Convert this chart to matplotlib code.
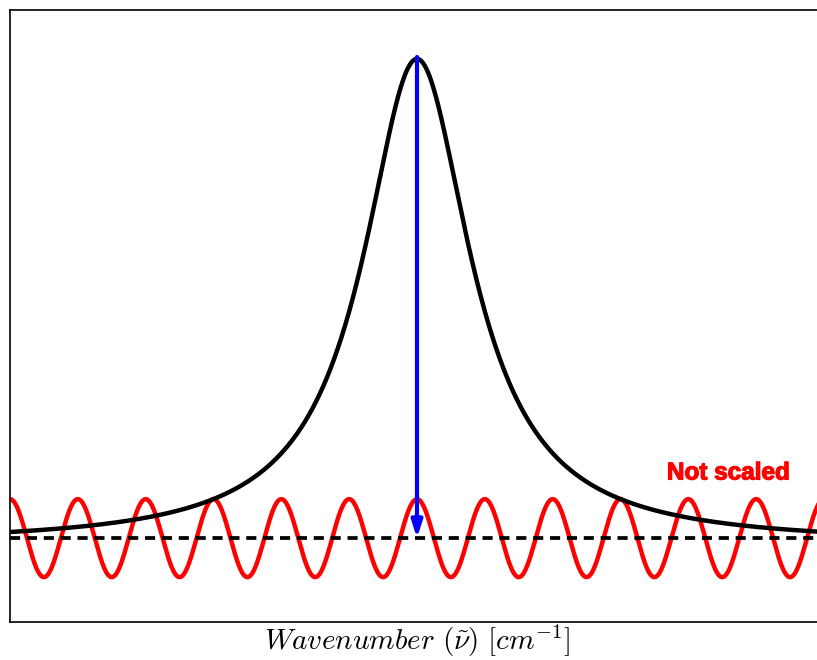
import numpy as np
import matplotlib
matplotlib.use("Agg")
import matplotlib.pyplot as plt
import matplotlib.patheffects as pe

plt.rcParams['mathtext.fontset'] = 'cm'

# values (x: -1..1 across the axes, y: 1 = peak height above baseline)
peak_center = 0.0
peak_height = 1.0
peak_width = 0.16        # half width at half maximum
peak_offset = -0.0125    # curve's own baseline sits slightly under the dashed line
baseline = 0.0
wave_amplitude = 0.0814
wave_period = 1.0 / 6.0
label_text = "Not scaled"
xlabel_text = r"$Wavenumber\ (\tilde{\nu})\ [cm^{-1}]$"

x = np.linspace(-1, 1, 2000)
lor = (peak_height - peak_offset) * peak_width**2 / ((x - peak_center)**2 + peak_width**2) + peak_offset
wave = baseline + wave_amplitude * np.cos(2 * np.pi * (x - peak_center) / wave_period)

fig = plt.figure(figsize=(8.17, 6.6), dpi=100)
ax = fig.add_axes([10/817, 38/660, 814/817, 612/660])

ax.plot(x, wave, color='red', lw=3.2, zorder=2)
ax.plot(x, lor, color='black', lw=3.2, zorder=3)
ax.plot([-1, 1], [baseline, baseline], color='black', lw=2.7, dashes=(2.7, 1.8), zorder=4)

ax.annotate('', xy=(peak_center, baseline), xytext=(peak_center, peak_height + 0.004),
            arrowprops=dict(arrowstyle='-|>,head_length=1.0,head_width=0.32',
                            color='blue', lw=3.0, shrinkA=0, shrinkB=0), zorder=5)

t = ax.text(0.765, 0.136, label_text, color='red', fontsize=17.5, fontweight='bold',
            family='Liberation Sans', ha='center', va='center')
t.set_path_effects([pe.withStroke(linewidth=0.9, foreground='red')])

ax.set_xlim(-1, 1)
ax.set_ylim(-0.175, 1.102)
ax.set_xticks([])
ax.set_yticks([])
for s in ax.spines.values():
    s.set_linewidth(1.2)
ax.set_xlabel(xlabel_text, fontsize=21, labelpad=0.5)

fig.savefig("out.png", dpi=100)
